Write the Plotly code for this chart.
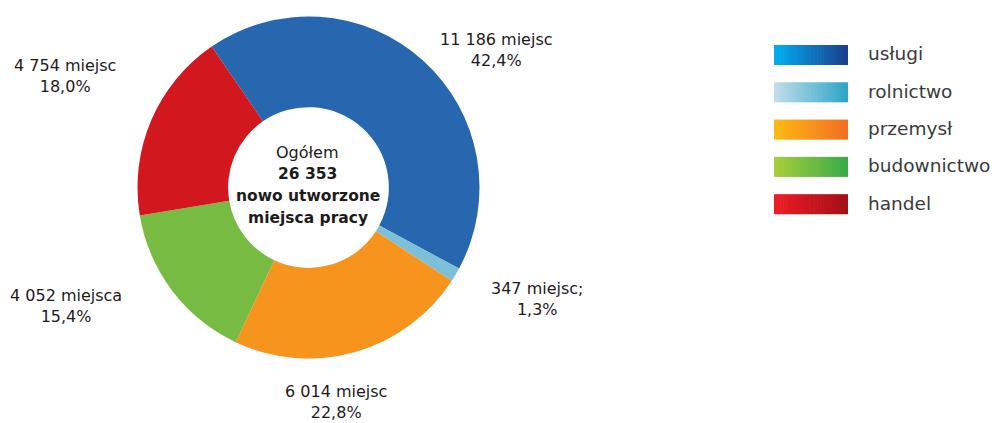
import plotly.graph_objects as go

W, H = 995, 423

# ---- data ----
categories = ["usługi", "rolnictwo", "przemysł", "budownictwo", "handel"]
counts = [11186, 347, 6014, 4052, 4754]
count_units = ["miejsc", "miejsc;", "miejsc", "miejsca", "miejsc"]
percent_labels = ["42,4%", "1,3%", "22,8%", "15,4%", "18,0%"]
total_label = "26 353"

# ---- styles ----
grad = [("#00aeef", "#1b3f8f"), ("#c0dcea", "#2fa6c6"), ("#fdb913", "#f26f21"),
        ("#a6ce39", "#3aaa49"), ("#ed1c24", "#a50f18")]
slice_colors = ["#2767b0", "#7cc0d8", "#f7941d", "#78bb43", "#d3171f"]
font_family = "DejaVu Sans, Verdana, sans-serif"
text_color = "#1e1b1c"

def px(x):
    return x / W

def py(y):
    return 1 - y / H

fig = go.Figure()
cx, cy, r = 308.5, 187.5, 171
fig.add_trace(go.Pie(
    labels=categories, values=counts, sort=False, direction="clockwise",
    rotation=-34.5, hole=0.47,
    marker=dict(colors=slice_colors, line=dict(color="white", width=0)),
    textinfo="none", hoverinfo="label+value+percent", showlegend=False,
    domain=dict(x=[px(cx - r), px(cx + r)], y=[py(cy + r), py(cy - r)]),
))

# outside labels (centre of each two-line label, in pixels)
label_pos = [(496, 50), (537, 299), (336, 402), (66, 306), (65, 76)]
for i, (x, y) in enumerate(label_pos):
    txt = f"{counts[i]:,}".replace(",", " ") + f" {count_units[i]}<br>{percent_labels[i]}"
    fig.add_annotation(x=px(x), y=py(y), xref="paper", yref="paper", text=txt,
                       showarrow=False, font=dict(size=16, color=text_color, family=font_family),
                       align="center", xanchor="center", yanchor="middle")

# center text
center_lines = [("Ogółem", False), (total_label, True), ("nowo utworzone", True), ("miejsca pracy", True)]
for j, (t, b) in enumerate(center_lines):
    fig.add_annotation(x=px(307.5), y=py(152 + j * 22), xref="paper", yref="paper",
                       text=f"<b>{t}</b>" if b else t, showarrow=False,
                       font=dict(size=15.5 if b else 16, color=text_color, family=font_family),
                       xanchor="center", yanchor="middle")

# custom legend with gradient swatches
def lerp(c1, c2, t):
    a = [int(c1[k:k + 2], 16) for k in (1, 3, 5)]
    b = [int(c2[k:k + 2], 16) for k in (1, 3, 5)]
    return "#" + "".join(f"{round(a[k] + (b[k] - a[k]) * t):02x}" for k in range(3))

shapes = []
n = 24
for i, cat in enumerate(categories):
    y0 = 45 + i * 37.3
    x0, x1 = 774, 848
    for s in range(n):
        xa = x0 + (x1 - x0) * s / n
        xb = x0 + (x1 - x0) * (s + 1) / n + 0.6
        shapes.append(dict(type="rect", xref="paper", yref="paper",
                           x0=px(xa), x1=px(min(xb, x1)), y0=py(y0 + 20), y1=py(y0),
                           fillcolor=lerp(grad[i][0], grad[i][1], s / (n - 1)), line=dict(width=0), layer="above"))
    fig.add_annotation(x=px(866), y=py(y0 + 9), xref="paper", yref="paper", text=cat,
                       showarrow=False, xanchor="left", yanchor="middle",
                       font=dict(size=18.5, color="#3a3a3a", family=font_family))

fig.update_layout(width=W, height=H, margin=dict(l=0, r=0, t=0, b=0),
                  paper_bgcolor="white", plot_bgcolor="white", shapes=shapes,
                  showlegend=False)
fig.write_html("out.html", config={"displayModeBar": False},
               post_script="document.body.style.margin='0';document.body.style.overflow='hidden';")
